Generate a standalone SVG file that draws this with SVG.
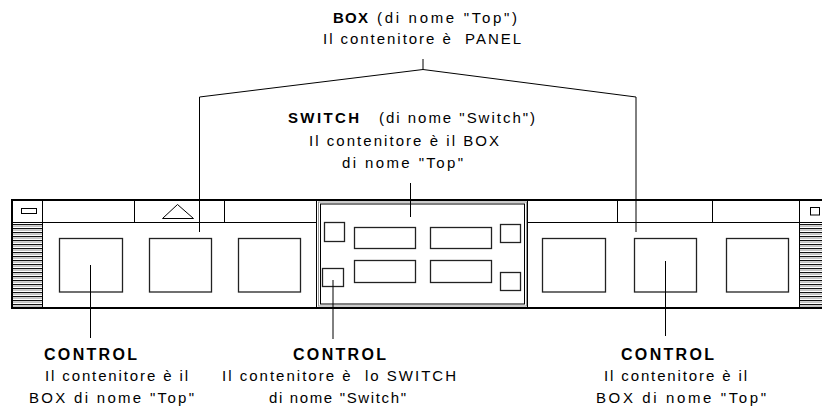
<svg xmlns="http://www.w3.org/2000/svg" width="822" height="410" viewBox="0 0 822 410" xml:space="preserve">
<defs>
<style>
.ln{stroke:#000;stroke-width:1;fill:none}
.bx{stroke:#222;stroke-width:1.3;fill:#fff}
.sb{stroke:#222;stroke-width:1.3;fill:#fff}
.thick{stroke:#000;stroke-width:2;fill:none}
.t{font-family:"Liberation Sans",Arial,sans-serif;font-size:15px;fill:#000;white-space:pre}
.b{font-weight:bold}
.c{font-size:16px}
.con{stroke:#000;stroke-width:1;fill:none}
</style>
<pattern id="stripes" x="0" y="224" width="4" height="4" patternUnits="userSpaceOnUse">
<rect x="0" y="0" width="4" height="4" fill="#fff"/>
<rect x="0" y="0" width="4" height="1.2" fill="#111"/>
<rect x="0" y="2" width="4" height="0.6" fill="#999"/>
</pattern>
</defs>
<rect width="822" height="410" fill="#fff"/>

<g id="panel">
<rect x="12" y="200" width="812" height="108" fill="#fff"/>
<rect x="13" y="223" width="29" height="84" fill="url(#stripes)"/>
<rect x="800" y="223" width="22" height="84" fill="url(#stripes)"/>
<line class="thick" x1="11" y1="200" x2="822" y2="200"/>
<line class="thick" x1="11" y1="308" x2="822" y2="308"/>
<line class="thick" x1="12" y1="199" x2="12" y2="309"/>
<line class="ln" x1="42.5" y1="200" x2="42.5" y2="308"/>
<line class="ln" x1="799.5" y1="200" x2="799.5" y2="308"/>
<line class="ln" x1="12" y1="222.5" x2="316.5" y2="222.5"/>
<line class="ln" x1="527.5" y1="222.5" x2="822" y2="222.5"/>
<rect class="ln" x="21.5" y="208.5" width="15" height="5"/>
<rect class="ln" x="810.5" y="207.5" width="9" height="7.5"/>
<line class="ln" x1="134.5" y1="200" x2="134.5" y2="222.5"/>
<line class="ln" x1="224.5" y1="200" x2="224.5" y2="222.5"/>
<polygon class="ln" points="177.5,204.5 162.5,218.5 193.5,218.5"/>
<line class="ln" x1="617.5" y1="200" x2="617.5" y2="222.5"/>
<line class="ln" x1="712.5" y1="200" x2="712.5" y2="222.5"/>
<line class="ln" x1="316.5" y1="200" x2="316.5" y2="308"/>
<line class="ln" x1="527.5" y1="200" x2="527.5" y2="308"/>
</g>

<g id="box-left">
<rect class="bx" x="59.5" y="238.5" width="63" height="53.5"/>
<rect class="bx" x="149.5" y="238.5" width="62" height="53.5"/>
<rect class="bx" x="238.5" y="238.5" width="62" height="53.5"/>
</g>

<g id="switch">
<rect x="318.5" y="202" width="208" height="104" fill="none" stroke="#999" stroke-width="1"/>
<rect x="320.5" y="204" width="204" height="100" fill="none" stroke="#000" stroke-width="1"/>
<rect class="sb" x="324.5" y="222.5" width="20" height="19"/>
<rect class="sb" x="354.5" y="227.5" width="61" height="21"/>
<rect class="sb" x="430.5" y="227.5" width="61" height="21"/>
<rect class="sb" x="500.5" y="224.5" width="20" height="18"/>
<rect class="sb" x="322.5" y="268.5" width="21" height="18"/>
<rect class="sb" x="354.5" y="260.5" width="61" height="22"/>
<rect class="sb" x="430.5" y="260.5" width="61" height="22"/>
<rect class="sb" x="500.5" y="272.5" width="20" height="18"/>
</g>

<g id="box-right">
<rect class="bx" x="542.5" y="238.5" width="63" height="53.5"/>
<rect class="bx" x="634.5" y="238.5" width="62" height="53.5"/>
<rect class="bx" x="726.5" y="238.5" width="62" height="53.5"/>
</g>

<g id="connectors">
<line class="con" x1="423" y1="59" x2="423" y2="69.5"/>
<polyline class="con" points="199.5,232 199.5,97 423,69.5 636,97 636,232"/>
<line class="con" x1="410.5" y1="183" x2="410.5" y2="217"/>
<line class="con" x1="90.5" y1="265" x2="90.5" y2="338"/>
<line class="con" x1="333" y1="280" x2="333" y2="339"/>
<line class="con" x1="665.5" y1="261" x2="665.5" y2="336"/>
</g>

<g id="label-box">
<text class="t b" x="333" y="22.5" textLength="35" lengthAdjust="spacing">BOX</text>
<text class="t" x="377" y="22.5" textLength="140" lengthAdjust="spacing">(di nome "Top")</text>
<text class="t" x="323" y="43.5" textLength="198" lengthAdjust="spacing">Il contenitore è  PANEL</text>
</g>

<g id="label-switch">
<text class="t b" x="288" y="123.3" textLength="71" lengthAdjust="spacing">SWITCH</text>
<text class="t" x="379" y="123.3" textLength="156" lengthAdjust="spacing">(di nome "Switch")</text>
<text class="t" x="309" y="145.7" textLength="190" lengthAdjust="spacing">Il contenitore è il BOX</text>
<text class="t" x="342" y="168.3" textLength="121" lengthAdjust="spacing">di nome "Top"</text>
</g>

<g id="label-control-left">
<text class="t b c" x="44" y="360" textLength="93" lengthAdjust="spacing">CONTROL</text>
<text class="t" x="45" y="381" textLength="143" lengthAdjust="spacing">Il contenitore è il</text>
<text class="t" x="29" y="402.7" textLength="165" lengthAdjust="spacing">BOX di nome "Top"</text>
</g>

<g id="label-control-mid">
<text class="t b c" x="293" y="360" textLength="93" lengthAdjust="spacing">CONTROL</text>
<text class="t" x="222" y="381" textLength="234" lengthAdjust="spacing">Il contenitore è  lo SWITCH</text>
<text class="t" x="269" y="402.7" textLength="137" lengthAdjust="spacing">di nome "Switch"</text>
</g>

<g id="label-control-right">
<text class="t b c" x="621" y="360" textLength="93" lengthAdjust="spacing">CONTROL</text>
<text class="t" x="604" y="381" textLength="143" lengthAdjust="spacing">Il contenitore è il</text>
<text class="t" x="596" y="402.7" textLength="170" lengthAdjust="spacing">BOX di nome "Top"</text>
</g>
</svg>
